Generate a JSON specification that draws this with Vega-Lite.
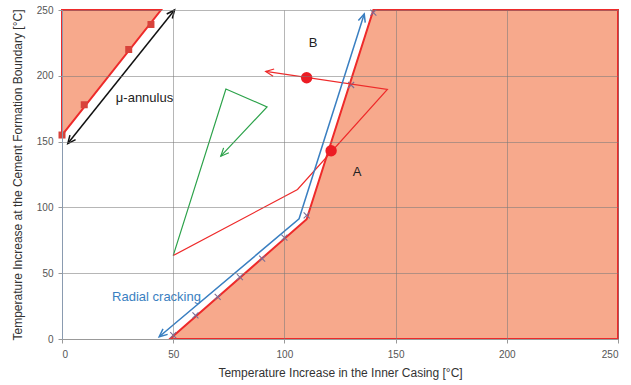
{
  "$schema": "https://vega.github.io/schema/vega-lite/v6.json",
  "width": 556,
  "height": 329,
  "autosize": "none",
  "padding": {"left": 62, "top": 10, "right": 13, "bottom": 46},
  "background": "white",
  "config": {
    "view": {"stroke": null},
    "font": "Liberation Sans",
    "axis": {
      "labelFont": "Liberation Sans",
      "titleFont": "Liberation Sans",
      "labelFontSize": 10,
      "labelColor": "#555555",
      "titleFontSize": 12,
      "titleFontWeight": "normal",
      "titleColor": "#333333",
      "gridColor": "#7a7a7a",
      "gridOpacity": 0.55,
      "gridWidth": 1,
      "tickColor": "#999999",
      "tickSize": 4,
      "domainColor": "#8a9bb0"
    }
  },
  "layer": [
    {
      "data": {"values": [
        {"x": 0, "y": 155, "y2": 250},
        {"x": 44.5, "y": 250, "y2": 250}
      ]},
      "mark": {"type": "area", "color": "#f7a98c", "stroke": "#ee2a2a", "strokeWidth": 2, "opacity": 1},
      "encoding": {
        "x": {"field": "x", "type": "quantitative", "scale": {"domain": [0, 250], "nice": false},
              "axis": {"values": [0, 50, 100, 150, 200, 250], "title": "Temperature Increase in the Inner Casing [°C]", "labelPadding": 6, "titlePadding": 8, "domainColor": "#999999", "zindex": 1}},
        "y": {"field": "y", "type": "quantitative", "scale": {"domain": [0, 250], "nice": false},
              "axis": {"values": [0, 50, 100, 150, 200, 250], "title": "Temperature Increase at the Cement Formation Boundary [°C]", "labelPadding": 5, "titlePadding": 12, "zindex": 1}},
        "y2": {"field": "y2"}
      }
    },
    {
      "data": {"values": [
        {"x": 48.5, "y": 0},
        {"x": 110, "y": 91},
        {"x": 140, "y": 250},
        {"x": 250, "y": 250}
      ]},
      "mark": {"type": "area", "color": "#f7a98c", "stroke": "#ee2a2a", "strokeWidth": 2, "opacity": 1},
      "encoding": {
        "x": {"field": "x", "type": "quantitative"},
        "y": {"field": "y", "type": "quantitative"},
        "y2": {"datum": 0}
      }
    },
    {
      "data": {"values": [
        {"x": 0, "y": 155},
        {"x": 10, "y": 178},
        {"x": 30, "y": 220},
        {"x": 40, "y": 239}
      ]},
      "mark": {"type": "square", "color": "#d8433b", "size": 49, "opacity": 1},
      "encoding": {
        "x": {"field": "x", "type": "quantitative"},
        "y": {"field": "y", "type": "quantitative"}
      }
    },
    {
      "data": {"values": [
        {"x": 50, "y": 3},
        {"x": 60, "y": 18},
        {"x": 70, "y": 32},
        {"x": 80, "y": 47},
        {"x": 90, "y": 61},
        {"x": 100, "y": 77},
        {"x": 110, "y": 94},
        {"x": 130, "y": 193},
        {"x": 140, "y": 248}
      ]},
      "mark": {"type": "point", "shape": "M-1,-1L1,1M-1,1L1,-1", "size": 36, "stroke": "#7d6e96", "strokeWidth": 1.1, "filled": false, "opacity": 1},
      "encoding": {
        "x": {"field": "x", "type": "quantitative"},
        "y": {"field": "y", "type": "quantitative"}
      }
    },
    {
      "data": {"values": [
        {"i": 1, "x": 2.6, "y": 148.5},
        {"i": 2, "x": 50.6, "y": 250}
      ]},
      "mark": {"type": "line", "color": "#111111", "strokeWidth": 1.5},
      "encoding": {
        "x": {"field": "x", "type": "quantitative"},
        "y": {"field": "y", "type": "quantitative"},
        "order": {"field": "i"}
      }
    },
    {
      "data": {"values": [
        {"i": 1, "x": 50, "y": 63.4},
        {"i": 2, "x": 73.7, "y": 190},
        {"i": 3, "x": 92.2, "y": 176.4},
        {"i": 4, "x": 71.4, "y": 138.9}
      ]},
      "mark": {"type": "line", "color": "#2ca24a", "strokeWidth": 1.2},
      "encoding": {
        "x": {"field": "x", "type": "quantitative"},
        "y": {"field": "y", "type": "quantitative"},
        "order": {"field": "i"}
      }
    },
    {
      "data": {"values": [
        {"i": 1, "x": 50, "y": 63.4},
        {"i": 2, "x": 105.9, "y": 113.6},
        {"i": 3, "x": 146.3, "y": 189.6},
        {"i": 4, "x": 91.6, "y": 203.3}
      ]},
      "mark": {"type": "line", "color": "#ee2a2a", "strokeWidth": 1.2},
      "encoding": {
        "x": {"field": "x", "type": "quantitative"},
        "y": {"field": "y", "type": "quantitative"},
        "order": {"field": "i"}
      }
    },
    {
      "data": {"values": [
        {"i": 1, "x": 43.7, "y": 1.7},
        {"i": 2, "x": 106.6, "y": 91.3},
        {"i": 3, "x": 135.9, "y": 247}
      ]},
      "mark": {"type": "line", "color": "#3a7fc1", "strokeWidth": 1.5},
      "encoding": {
        "x": {"field": "x", "type": "quantitative"},
        "y": {"field": "y", "type": "quantitative"},
        "order": {"field": "i"}
      }
    },
    {
      "data": {"values": [{"x": 50.6, "y": 250}]},
      "mark": {"type": "point", "shape": "M-0.45,1L0,0L0.45,1", "size": 256, "angle": 38.6, "stroke": "#111111", "strokeWidth": 1.5, "filled": false, "opacity": 1},
      "encoding": {"x": {"field": "x", "type": "quantitative"}, "y": {"field": "y", "type": "quantitative"}}
    },
    {
      "data": {"values": [{"x": 2.6, "y": 148.5}]},
      "mark": {"type": "point", "shape": "M-0.45,1L0,0L0.45,1", "size": 256, "angle": 218.6, "stroke": "#111111", "strokeWidth": 1.5, "filled": false, "opacity": 1},
      "encoding": {"x": {"field": "x", "type": "quantitative"}, "y": {"field": "y", "type": "quantitative"}}
    },
    {
      "data": {"values": [{"x": 71.4, "y": 138.9}]},
      "mark": {"type": "point", "shape": "M-0.45,1L0,0L0.45,1", "size": 256, "angle": 223, "stroke": "#2ca24a", "strokeWidth": 1.2, "filled": false, "opacity": 1},
      "encoding": {"x": {"field": "x", "type": "quantitative"}, "y": {"field": "y", "type": "quantitative"}}
    },
    {
      "data": {"values": [{"x": 91.6, "y": 203.3}]},
      "mark": {"type": "point", "shape": "M-0.45,1L0,0L0.45,1", "size": 256, "angle": 278.2, "stroke": "#ee2a2a", "strokeWidth": 1.2, "filled": false, "opacity": 1},
      "encoding": {"x": {"field": "x", "type": "quantitative"}, "y": {"field": "y", "type": "quantitative"}}
    },
    {
      "data": {"values": [{"x": 135.9, "y": 247}]},
      "mark": {"type": "point", "shape": "M-0.45,1L0,0L0.45,1", "size": 256, "angle": 17.8, "stroke": "#3a7fc1", "strokeWidth": 1.5, "filled": false, "opacity": 1},
      "encoding": {"x": {"field": "x", "type": "quantitative"}, "y": {"field": "y", "type": "quantitative"}}
    },
    {
      "data": {"values": [{"x": 43.7, "y": 1.7}]},
      "mark": {"type": "point", "shape": "M-0.45,1L0,0L0.45,1", "size": 256, "angle": 229.9, "stroke": "#3a7fc1", "strokeWidth": 1.5, "filled": false, "opacity": 1},
      "encoding": {"x": {"field": "x", "type": "quantitative"}, "y": {"field": "y", "type": "quantitative"}}
    },
    {
      "data": {"values": [
        {"label": "A", "x": 121, "y": 143},
        {"label": "B", "x": 110, "y": 198.5}
      ]},
      "mark": {"type": "circle", "color": "#ec1c24", "size": 130, "opacity": 1},
      "encoding": {
        "x": {"field": "x", "type": "quantitative"},
        "y": {"field": "y", "type": "quantitative"}
      }
    },
    {
      "data": {"values": [
        {"t": "B", "x": 112.9, "y": 225},
        {"t": "A", "x": 132.7, "y": 127},
        {"t": "μ-annulus", "x": 37.1, "y": 183}
      ]},
      "mark": {"type": "text", "fontSize": 13, "color": "#222222", "align": "center", "baseline": "middle", "font": "Liberation Sans"},
      "encoding": {
        "x": {"field": "x", "type": "quantitative"},
        "y": {"field": "y", "type": "quantitative"},
        "text": {"field": "t"}
      }
    },
    {
      "data": {"values": [
        {"t": "Radial cracking", "x": 42.5, "y": 32}
      ]},
      "mark": {"type": "text", "fontSize": 13, "color": "#3a7fc1", "align": "center", "baseline": "middle", "font": "Liberation Sans"},
      "encoding": {
        "x": {"field": "x", "type": "quantitative"},
        "y": {"field": "y", "type": "quantitative"},
        "text": {"field": "t"}
      }
    }
  ]
}
